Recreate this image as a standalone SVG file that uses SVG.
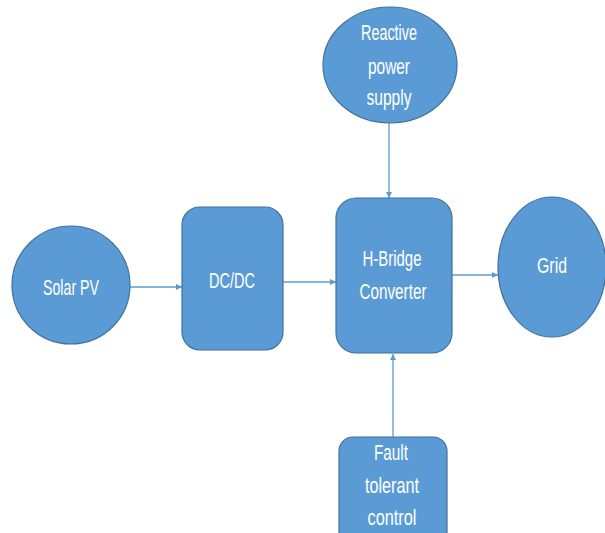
<svg xmlns="http://www.w3.org/2000/svg" width="605" height="533" viewBox="0 0 605 533">
<defs>
<style>
.n{fill:#5B9BD5;stroke:#41719C;stroke-width:1.2}
.t{fill:#fff;font-family:"Liberation Sans Narrow","Liberation Sans",sans-serif;font-size:22px;text-anchor:middle}
.c{stroke:#5B9BD5;stroke-width:1.3;fill:none;marker-end:url(#ah)}
</style>
<marker id="ah" viewBox="0 0 10 10" refX="10" refY="5" markerWidth="6" markerHeight="6" markerUnits="userSpaceOnUse" orient="auto">
<path d="M0,0 L10,5 L0,10 z" fill="#5B9BD5"/>
</marker>
</defs>
<rect width="605" height="533" fill="#fff"/>
<g id="connectors">
<line class="c" x1="130" y1="287" x2="182" y2="287"/>
<line class="c" x1="283" y1="282" x2="336" y2="282"/>
<line class="c" x1="389" y1="123" x2="389" y2="198"/>
<line class="c" x1="452" y1="275" x2="498" y2="275"/>
<line class="c" x1="393" y1="437" x2="393" y2="354"/>
</g>
<g id="solar">
<circle class="n" cx="71" cy="285" r="59"/>
<text class="t" x="71" y="295" textLength="56" lengthAdjust="spacingAndGlyphs">Solar PV</text>
</g>
<g id="dcdc">
<rect class="n" x="182" y="207" width="101" height="143" rx="18"/>
<text class="t" x="232" y="288" textLength="46" lengthAdjust="spacingAndGlyphs">DC/DC</text>
</g>
<g id="reactive">
<ellipse class="n" cx="390" cy="65" rx="67" ry="58"/>
<text class="t" x="389" y="40" textLength="56" lengthAdjust="spacingAndGlyphs">Reactive</text>
<text class="t" x="389" y="74" textLength="42" lengthAdjust="spacingAndGlyphs">power</text>
<text class="t" x="389" y="105" textLength="45" lengthAdjust="spacingAndGlyphs">supply</text>
</g>
<g id="hbridge">
<rect class="n" x="336" y="198" width="116" height="155" rx="20"/>
<text class="t" x="392" y="266" textLength="59" lengthAdjust="spacingAndGlyphs">H-Bridge</text>
<text class="t" x="393" y="299" textLength="67" lengthAdjust="spacingAndGlyphs">Converter</text>
</g>
<g id="grid">
<ellipse class="n" cx="552" cy="267" rx="54" ry="70"/>
<text class="t" x="552" y="273" textLength="30" lengthAdjust="spacingAndGlyphs">Grid</text>
</g>
<g id="fault">
<rect class="n" x="339" y="437" width="108" height="110" rx="14"/>
<text class="t" x="391" y="460" textLength="34" lengthAdjust="spacingAndGlyphs">Fault</text>
<text class="t" x="392" y="493" textLength="54" lengthAdjust="spacingAndGlyphs">tolerant</text>
<text class="t" x="392" y="525" textLength="49" lengthAdjust="spacingAndGlyphs">control</text>
</g>
</svg>
